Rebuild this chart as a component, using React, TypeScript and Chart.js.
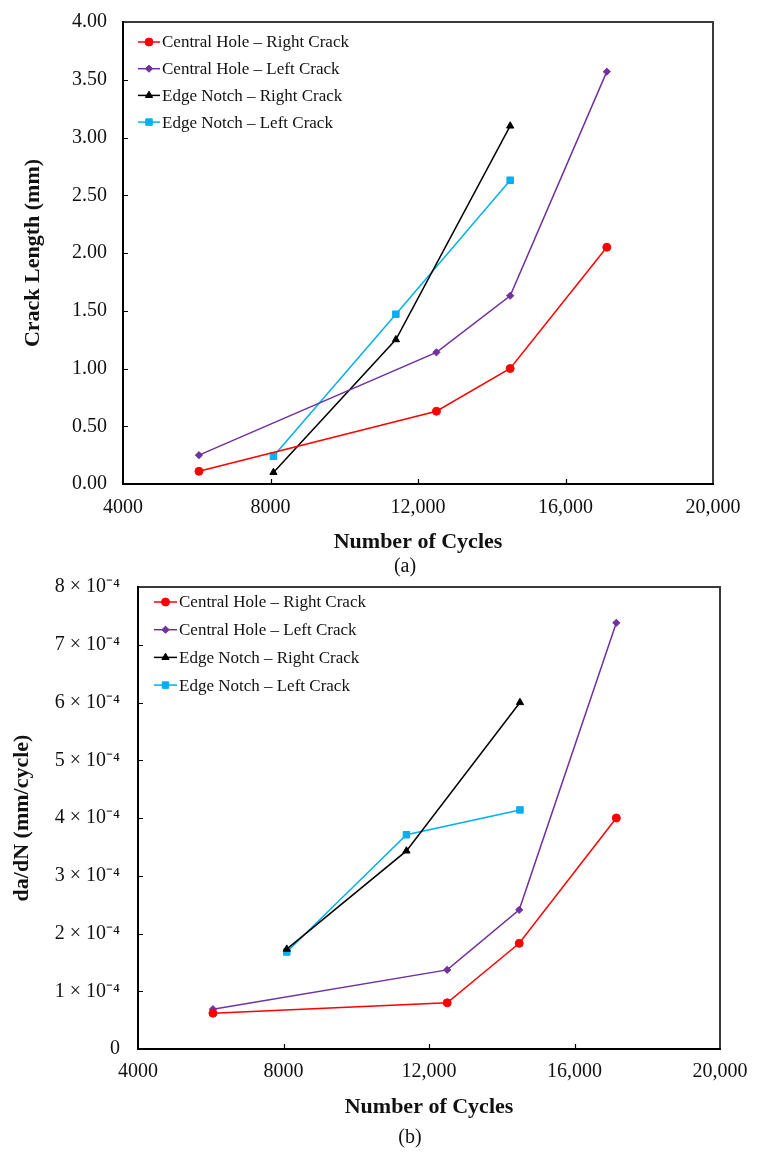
import { useEffect, useRef } from 'react';
import { Chart, registerables } from 'chart.js';
import { drawPoint } from 'chart.js/helpers';

Chart.register(...registerables);

// ---- series metadata ----
const seriesNames = [
  'Central Hole – Right Crack',
  'Central Hole – Left Crack',
  'Edge Notch – Right Crack',
  'Edge Notch – Left Crack',
];
const seriesColors = ['#FF0000', '#7030A0', '#000000', '#00B0F0'];
const seriesMarkers = ['circle', 'rectRot', 'triangle', 'rect'];
const seriesMarkerRadius = [4, 3.6, 4.2, 4.6];

// ---- (a) crack length vs. number of cycles ----
const holeCycles = [6060, 12500, 14500, 17120];
const notchCycles = [8080, 11400, 14500];
const holeRightLength = [0.11, 0.63, 1.0, 2.05];
const holeLeftLength = [0.25, 1.14, 1.63, 3.57];
const notchRightLength = [0.1, 1.25, 3.1];
const notchLeftLength = [0.24, 1.47, 2.63];

// ---- (b) crack growth rate vs. number of cycles ----
const holeRateCycles = [6060, 12500, 14480, 17150];
const notchRateCycles = [8090, 11380, 14500];
const holeRightRate = [6.2e-5, 8.0e-5, 1.83e-4, 4.0e-4];
const holeLeftRate = [6.9e-5, 1.37e-4, 2.41e-4, 7.38e-4];
const notchRightRate = [1.73e-4, 3.43e-4, 6.0e-4];
const notchLeftRate = [1.68e-4, 3.71e-4, 4.14e-4];

// ---- axes ----
const cycleTicks = [4000, 8000, 12000, 16000, 20000];
const cycleTickLabels = ['4000', '8000', '12,000', '16,000', '20,000'];
const lengthTicks = [0, 0.5, 1, 1.5, 2, 2.5, 3, 3.5, 4];
const lengthTickLabels = ['0.00', '0.50', '1.00', '1.50', '2.00', '2.50', '3.00', '3.50', '4.00'];
const rateTicks = [0, 1e-4, 2e-4, 3e-4, 4e-4, 5e-4, 6e-4, 7e-4, 8e-4];
const rateTickLabels = ['0', '1 × 10⁻⁴', '2 × 10⁻⁴', '3 × 10⁻⁴', '4 × 10⁻⁴', '5 × 10⁻⁴', '6 × 10⁻⁴', '7 × 10⁻⁴', '8 × 10⁻⁴'];

const SERIF = "'Liberation Serif', 'Times New Roman', serif";

const zip = (xs: number[], ys: number[]) => xs.map((x, i) => ({ x, y: ys[i] }));

function makeDatasets(pairs: [number[], number[]][]) {
  return pairs.map(([xs, ys], i) => ({
    label: seriesNames[i],
    data: zip(xs, ys),
    borderColor: seriesColors[i],
    backgroundColor: seriesColors[i],
    pointBackgroundColor: seriesColors[i],
    pointBorderColor: seriesColors[i],
    pointStyle: seriesMarkers[i],
    pointRadius: seriesMarkerRadius[i],
    pointBorderWidth: 1,
    borderWidth: 1.5,
    tension: 0,
    fill: false,
  }));
}

// Frame, inward tick marks, in-plot legend and panel caption
const framePlugin = {
  id: 'frame',
  afterDraw(chart: any, _args: any, opts: any) {
    const ctx = chart.ctx;
    const { left, top, right, bottom } = chart.chartArea;
    const xs = chart.scales.x;
    const ys = chart.scales.y;
    ctx.save();

    // inward tick marks
    ctx.strokeStyle = '#000';
    ctx.lineWidth = 1.2;
    ctx.beginPath();
    xs.ticks.forEach((t: any) => {
      const px = Math.round(xs.getPixelForValue(t.value)) + 0.5;
      if (px <= left + 2 || px >= right - 2) return;
      ctx.moveTo(px, bottom);
      ctx.lineTo(px, bottom - 5);
    });
    ys.ticks.forEach((t: any) => {
      const py = Math.round(ys.getPixelForValue(t.value)) + 0.5;
      if (py <= top + 2 || py >= bottom - 2) return;
      ctx.moveTo(left, py);
      ctx.lineTo(left + 5, py);
    });
    ctx.stroke();

    // top and right border
    ctx.strokeStyle = '#3a3a3a';
    ctx.lineWidth = 2;
    ctx.beginPath();
    ctx.moveTo(left, top);
    ctx.lineTo(right, top);
    ctx.lineTo(right, bottom);
    ctx.stroke();

    // axis lines
    ctx.strokeStyle = '#000';
    ctx.lineWidth = 2;
    ctx.beginPath();
    ctx.moveTo(left, top - 1);
    ctx.lineTo(left, bottom);
    ctx.lineTo(right + 1, bottom);
    ctx.stroke();

    // legend
    const lg = opts.legend;
    ctx.font = `${lg.fontSize}px ${SERIF}`;
    ctx.textBaseline = 'middle';
    ctx.textAlign = 'left';
    chart.data.datasets.forEach((ds: any, i: number) => {
      const y = top + lg.dy0 + i * lg.rowGap;
      const x0 = left + lg.dx0;
      const x1 = x0 + lg.lineLen;
      ctx.strokeStyle = ds.borderColor;
      ctx.lineWidth = ds.borderWidth;
      ctx.beginPath();
      ctx.moveTo(x0, y);
      ctx.lineTo(x1, y);
      ctx.stroke();
      ctx.fillStyle = ds.pointBackgroundColor;
      ctx.strokeStyle = ds.pointBorderColor;
      ctx.lineWidth = ds.pointBorderWidth;
      drawPoint(ctx, { pointStyle: ds.pointStyle, radius: ds.pointRadius, rotation: 0, borderWidth: ds.pointBorderWidth }, (x0 + x1) / 2, y);
      ctx.fillStyle = '#111';
      ctx.fillText(ds.label, x1 + lg.textGap, y + 1);
    });

    // panel caption
    const cp = opts.caption;
    ctx.font = `${cp.fontSize}px ${SERIF}`;
    ctx.textAlign = 'center';
    ctx.textBaseline = 'middle';
    ctx.fillStyle = '#111';
    ctx.fillText(cp.text, cp.x, cp.y);
    ctx.restore();
  },
};

type PanelSpec = {
  datasets: any[];
  yMax: number;
  yStep: number;
  yTicks: number[];
  yTickLabels: string[];
  yTitle: string;
  yTitlePad: number;
  yLabelGap: number;
  xTickPad: number;
  xTitlePad: number;
  axisWidth: number;
  axisHeight: number;
  padding: { top: number; right: number; left: number; bottom: number };
  legend: any;
  caption: any;
};

function buildConfig(p: PanelSpec): any {
  const tickFont = { family: SERIF, size: 20 };
  const titleFont = { family: SERIF, size: 22, weight: 'bold' as const };
  return {
    type: 'line',
    data: { datasets: p.datasets },
    options: {
      animation: false,
      responsive: false,
      maintainAspectRatio: false,
      layout: { padding: p.padding },
      plugins: {
        legend: { display: false },
        tooltip: { enabled: false },
        frame: { legend: p.legend, caption: p.caption },
      },
      scales: {
        x: {
          type: 'linear',
          min: cycleTicks[0],
          max: cycleTicks[cycleTicks.length - 1],
          afterBuildTicks: (s: any) => {
            s.ticks = cycleTicks.map((v) => ({ value: v }));
          },
          ticks: {
            autoSkip: false,
            maxRotation: 0,
            padding: p.xTickPad,
            color: '#111',
            font: tickFont,
            callback: (v: number) => cycleTickLabels[cycleTicks.indexOf(v)] ?? '',
          },
          grid: { display: false, drawTicks: false },
          border: { display: false },
          title: {
            display: true,
            text: 'Number of Cycles',
            color: '#111',
            font: titleFont,
            padding: { top: 0, bottom: p.xTitlePad },
          },
          afterFit: (s: any) => {
            s.height = p.axisHeight;
          },
        },
        y: {
          type: 'linear',
          min: 0,
          max: p.yMax,
          afterBuildTicks: (s: any) => {
            s.ticks = p.yTicks.map((v) => ({ value: v }));
          },
          ticks: {
            autoSkip: false,
            padding: 0,
            color: '#111',
            font: tickFont,
            callback: (v: number) => {
              const idx = p.yTicks.findIndex((t) => Math.abs(t - v) < p.yStep * 1e-3);
              return idx >= 0 ? p.yTickLabels[idx] : '';
            },
          },
          // grid hidden; tickLength only sets the gap between labels and axis
          grid: { display: false, drawTicks: true, tickLength: p.yLabelGap },
          border: { display: false },
          title: {
            display: true,
            text: p.yTitle,
            color: '#111',
            font: titleFont,
            padding: { top: p.yTitlePad, bottom: 0 },
          },
          afterFit: (s: any) => {
            s.width = p.axisWidth;
          },
        },
      },
    },
    plugins: [framePlugin],
  };
}

function Panel({ spec, top, width, height }: { spec: PanelSpec; top: number; width: number; height: number }) {
  const ref = useRef<HTMLCanvasElement | null>(null);
  useEffect(() => {
    if (!ref.current) return;
    const chart = new Chart(ref.current, buildConfig(spec));
    return () => chart.destroy();
  }, [spec]);
  return (
    <div style={{ position: 'absolute', left: 0, top, width, height }}>
      <canvas ref={ref} width={width} height={height} style={{ display: 'block', width, height }} />
    </div>
  );
}

const panelA: PanelSpec = {
  datasets: makeDatasets([
    [holeCycles, holeRightLength],
    [holeCycles, holeLeftLength],
    [notchCycles, notchRightLength],
    [notchCycles, notchLeftLength],
  ]),
  yMax: 4,
  yStep: 0.5,
  yTicks: lengthTicks,
  yTickLabels: lengthTickLabels,
  yTitle: 'Crack Length (mm)',
  yTitlePad: 20,
  yLabelGap: 16,
  xTickPad: 12,
  xTitlePad: 24,
  axisWidth: 123,
  axisHeight: 96,
  padding: { top: 22, right: 49, left: 0, bottom: 0 },
  legend: { fontSize: 17, dx0: 15, dy0: 20, rowGap: 26.7, lineLen: 22, textGap: 2 },
  caption: { text: '(a)', fontSize: 20, x: 405, y: 567 },
};

const panelB: PanelSpec = {
  datasets: makeDatasets([
    [holeRateCycles, holeRightRate],
    [holeRateCycles, holeLeftRate],
    [notchRateCycles, notchRightRate],
    [notchRateCycles, notchLeftRate],
  ]),
  yMax: 8e-4,
  yStep: 1e-4,
  yTicks: rateTicks,
  yTickLabels: rateTickLabels,
  yTitle: 'da/dN (mm/cycle)',
  yTitlePad: 9,
  yLabelGap: 18,
  xTickPad: 11,
  xTitlePad: 37,
  axisWidth: 138,
  axisHeight: 109,
  padding: { top: 17, right: 42, left: 0, bottom: 0 },
  legend: { fontSize: 17, dx0: 16, dy0: 15, rowGap: 27.7, lineLen: 23, textGap: 2 },
  caption: { text: '(b)', fontSize: 20, x: 410, y: 568 },
};

export default function App() {
  return (
    <div style={{ position: 'absolute', left: 0, top: 0, width: 762, height: 1158, background: '#fff' }}>
      <Panel spec={panelA} top={0} width={762} height={580} />
      <Panel spec={panelB} top={570} width={762} height={588} />
    </div>
  );
}
